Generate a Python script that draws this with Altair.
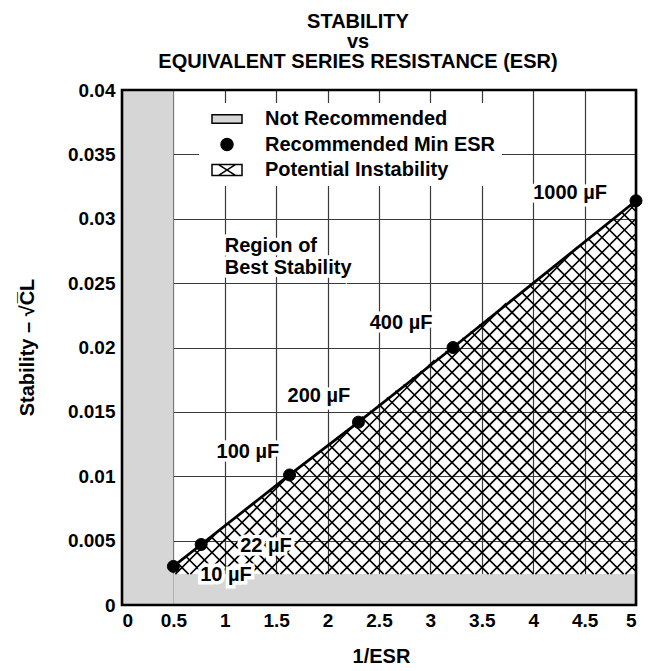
import altair as alt
import pandas as pd
import math

FONT = "Liberation Sans"

# ---------------- data ----------------
cap_labels = ["10 µF", "22 µF", "100 µF", "200 µF", "400 µF", "1000 µF"]
inv_esr = [0.5, 0.77, 1.63, 2.30, 3.22, 5.0]
stability = [0.0030, 0.0047, 0.0101, 0.0142, 0.0200, 0.0314]
cap_label_x = [0.76, 1.15, 0.92, 1.61, 2.41, 4.0]
cap_label_y = [0.0023, 0.0046, 0.0119, 0.0162, 0.0219, 0.0320]

region_lines = ["Region of", "Best Stability"]
region_x = [1.0, 1.0]
region_y = [0.0279, 0.0262]

legend_items = ["Not Recommended", "Recommended Min ESR", "Potential Instability"]

x_ticks = [0, 0.5, 1, 1.5, 2, 2.5, 3, 3.5, 4, 4.5, 5]
y_ticks = [0, 0.005, 0.01, 0.015, 0.02, 0.025, 0.03, 0.035, 0.04]

esr_limit_x = 0.5      # 1/ESR below this is not recommended
stab_limit_y = 0.0024  # stability below this is not recommended

X_MAX, Y_MAX = 5, 0.04
W, H = 514, 515

# ---------------- tables ----------------
pts_df = pd.DataFrame({"x": inv_esr, "y": stability, "kind": "Recommended Min ESR"})
lab_df = pd.DataFrame({"x": cap_label_x, "y": cap_label_y, "t": cap_labels})
reg_df = pd.DataFrame({"x": region_x, "y": region_y, "t": region_lines})
gray_df = pd.DataFrame({"x": [0, esr_limit_x], "x2": [esr_limit_x, X_MAX],
                        "y": [0, 0], "y2": [Y_MAX, stab_limit_y]})
frame_df = pd.DataFrame({"x": [0], "x2": [X_MAX], "y": [0], "y2": [Y_MAX]})

# cross-hatch of the "potential instability" region (45 deg in screen space)
hatch_poly = [(esr_limit_x, stab_limit_y), (inv_esr[0], stability[0]),
              (inv_esr[-1], stability[-1]), (X_MAX, stab_limit_y)]


def to_px(p):
    return (p[0] / X_MAX * W, p[1] / Y_MAX * H)


def to_data(p):
    return (p[0] / W * X_MAX, p[1] / H * Y_MAX)


poly = [to_px(p) for p in hatch_poly]


def clip(n, c):
    pts = []
    for i in range(len(poly)):
        a = poly[i]
        b = poly[(i + 1) % len(poly)]
        fa = n[0] * a[0] + n[1] * a[1] - c
        fb = n[0] * b[0] + n[1] * b[1] - c
        if fa == fb:
            continue
        if (fa <= 0 <= fb) or (fb <= 0 <= fa):
            t = fa / (fa - fb)
            pts.append((a[0] + (b[0] - a[0]) * t, a[1] + (b[1] - a[1]) * t))
    if len(pts) < 2:
        return None
    d = (-n[1], n[0])
    pts.sort(key=lambda p: p[0] * d[0] + p[1] * d[1])
    return pts[0], pts[-1]


STEP = 15.0
rows = []
for n in [(1, -1), (1, 1)]:
    vals = [n[0] * p[0] + n[1] * p[1] for p in poly]
    c = math.floor(min(vals) / STEP) * STEP + STEP / 2
    while c < max(vals):
        seg = clip(n, c)
        if seg is not None:
            a, b = seg
            if math.hypot(a[0] - b[0], a[1] - b[1]) > 0.5:
                da, db = to_data(a), to_data(b)
                rows.append({"x": da[0], "y": da[1], "x2": db[0], "y2": db[1]})
        c += STEP
hatch_df = pd.DataFrame(rows)

# ---------------- encodings ----------------
xs = alt.Scale(domain=[0, X_MAX], nice=False, zero=False)
ys = alt.Scale(domain=[0, Y_MAX], nice=False, zero=False)

x_axis = alt.Axis(values=x_ticks, format=".1~f", grid=True, ticks=False, domain=False,
                  labelFont=FONT, labelFontSize=19, labelFontWeight="bold", labelColor="black",
                  labelPadding=6, title="1/ESR", titleFont=FONT, titleFontSize=20,
                  titleFontWeight="bold", titleColor="black", titleX=259, titleY=57,
                  titleBaseline="alphabetic", titleAlign="center",
                  gridColor="#3a3a3a", gridWidth=1.2, gridOpacity=1)
y_axis = alt.Axis(values=y_ticks, format=".3~f", grid=True, ticks=False, domain=False,
                  labelFont=FONT, labelFontSize=19, labelFontWeight="bold", labelColor="black",
                  labelPadding=7, title="Stability – √C̅L", titleFont=FONT, titleFontSize=20,
                  titleFontWeight="bold", titleColor="black", titleX=-89, titleY=257,
                  titleAngle=270, titleAlign="center", titleBaseline="alphabetic",
                  gridColor="#3a3a3a", gridWidth=1.2, gridOpacity=1)

X = alt.X("x:Q", scale=xs, axis=x_axis)
Y = alt.Y("y:Q", scale=ys, axis=y_axis)

rect_path = "M-2.5,-0.7H2.5V0.7H-2.5Z"
hatch_path = "M-2.5,-0.9H2.5V0.9H-2.5Z M-1.4,-0.9L1.4,0.9 M-1.4,0.9L1.4,-0.9"

legend = alt.Legend(title=None, orient="none", legendX=77, legendY=13,
                    labelFont=FONT, labelFontSize=20, labelFontWeight="bold",
                    labelColor="black", labelLimit=400, symbolSize=144,
                    symbolOffset=12, labelOffset=28, padding=6, fillColor="white",
                    rowPadding=5.5, symbolStrokeColor="black", symbolStrokeWidth=1.5)

gray = alt.Chart(gray_df).mark_rect(color="#d6d6d6").encode(x=X, x2="x2", y=Y, y2="y2")

hatch = alt.Chart(hatch_df).mark_rule(color="black", strokeWidth=1.6).encode(
    x=X, x2="x2", y=Y, y2="y2")

line = alt.Chart(pts_df).mark_line(color="black", strokeWidth=2.8).encode(x=X, y=Y)

points = alt.Chart(pts_df).mark_point(filled=True, size=144, opacity=1,
                                      stroke="black", strokeWidth=1).encode(
    x=X, y=Y,
    color=alt.Color("kind:N", scale=alt.Scale(domain=legend_items,
                                              range=["#d6d6d6", "black", "white"]),
                    legend=legend),
    shape=alt.Shape("kind:N", scale=alt.Scale(domain=legend_items,
                                              range=[rect_path, "circle", hatch_path]),
                    legend=legend),
)

txt_kw = dict(align="left", baseline="middle", font=FONT, fontSize=20, fontWeight="bold")
lab_halo = alt.Chart(lab_df).mark_text(color="white", stroke="white", strokeWidth=7,
                                       **txt_kw).encode(x=X, y=Y, text="t:N")
lab_text = alt.Chart(lab_df).mark_text(color="black", **txt_kw).encode(x=X, y=Y, text="t:N")
reg_halo = alt.Chart(reg_df).mark_text(color="white", stroke="white", strokeWidth=7,
                                       **txt_kw).encode(x=X, y=Y, text="t:N")
reg_text = alt.Chart(reg_df).mark_text(color="black", **txt_kw).encode(x=X, y=Y, text="t:N")

frame = alt.Chart(frame_df).mark_rect(fillOpacity=0, stroke="black", strokeWidth=2.6).encode(
    x=X, x2="x2", y=Y, y2="y2")

chart = alt.layer(gray, hatch, line, points, lab_halo, lab_text, reg_halo, reg_text, frame).properties(
    width=W, height=H,
    autosize=alt.AutoSizeParams(type="none"),
    padding={"left": 114, "top": 82, "right": 14, "bottom": 66},
    title=alt.TitleParams(text=["STABILITY", "vs", "EQUIVALENT SERIES RESISTANCE (ESR)"],
                          font=FONT, fontSize=20, fontWeight="bold", color="black",
                          lineHeight=20.2, anchor="middle", dx=-21, dy=34, offset=23,
                          baseline="bottom"),
).configure_view(stroke=None)

chart.save("out.html", embed_options={"renderer": "svg", "actions": False})
